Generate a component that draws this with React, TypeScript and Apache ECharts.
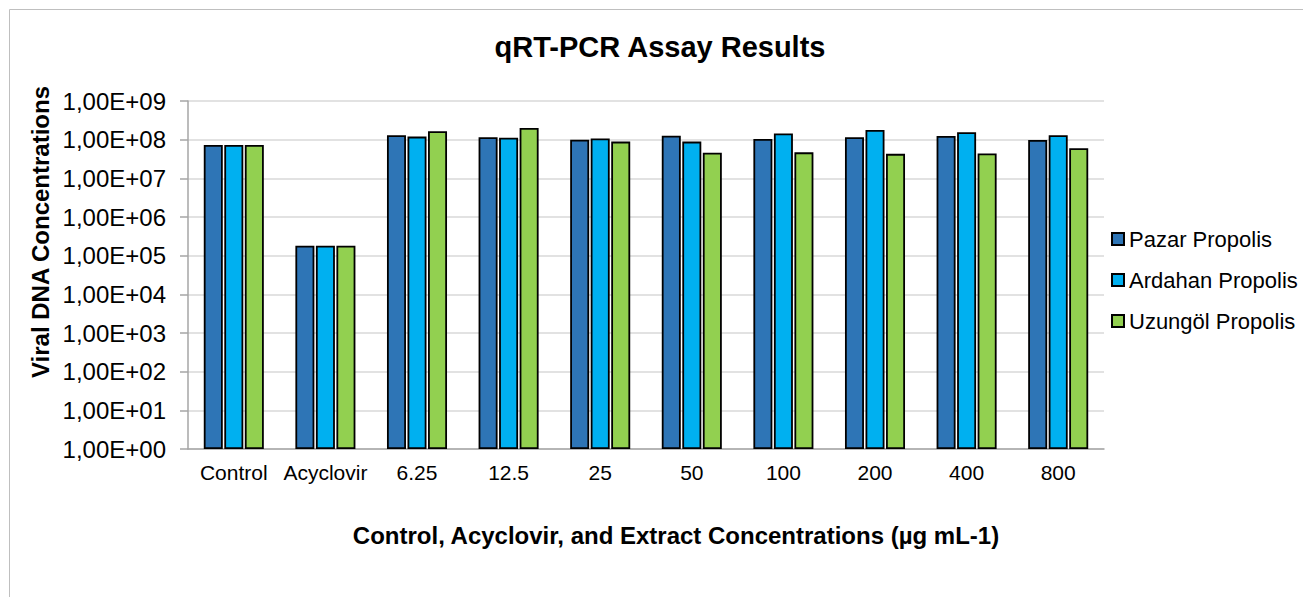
import React, { useEffect, useRef } from "react";
import * as echarts from "echarts";

const categories = ["Control", "Acyclovir", "6.25", "12.5", "25", "50", "100", "200", "400", "800"];
const seriesNames = ["Pazar Propolis", "Ardahan Propolis", "Uzungöl Propolis"];
const pazar = [7.3e7, 1.8e5, 1.3e8, 1.15e8, 1.0e8, 1.26e8, 1.04e8, 1.15e8, 1.24e8, 9.8e7];
const ardahan = [7.3e7, 1.8e5, 1.2e8, 1.12e8, 1.07e8, 8.9e7, 1.45e8, 1.78e8, 1.56e8, 1.3e8];
const uzungol = [7.3e7, 1.8e5, 1.66e8, 2.0e8, 8.9e7, 4.6e7, 4.7e7, 4.3e7, 4.4e7, 6.0e7];
const yTickLabels = ["1,00E+00", "1,00E+01", "1,00E+02", "1,00E+03", "1,00E+04", "1,00E+05", "1,00E+06", "1,00E+07", "1,00E+08", "1,00E+09"];
const colors = ["#2E75B6", "#00B0F0", "#92D050"];

const FONT = "'Liberation Sans', Arial, sans-serif";

export default function App() {
  const ref = useRef<HTMLDivElement>(null);
  useEffect(() => {
    if (!ref.current) return;
    const chart = echarts.init(ref.current, null, { renderer: "svg" });
    const values = [pazar, ardahan, uzungol];
    chart.setOption({
      animation: false,
      backgroundColor: "#ffffff",
      textStyle: { fontFamily: FONT },
      graphic: [
        {
          type: "rect",
          silent: true,
          z: -10,
          shape: { x: 9.5, y: 9.5, width: 1400, height: 700 },
          style: { fill: "none", stroke: "#BFBFBF", lineWidth: 1 },
        },
        {
          type: "text",
          x: 660,
          y: 47,
          style: {
            text: "qRT-PCR Assay Results",
            font: `bold 29px ${FONT}`,
            fill: "#000",
            textAlign: "center",
            textVerticalAlign: "middle",
          },
        },
        {
          type: "text",
          x: 676,
          y: 535,
          style: {
            text: "Control, Acyclovir, and Extract Concentrations (µg mL-1)",
            font: `bold 24px ${FONT}`,
            fill: "#000",
            textAlign: "center",
            textVerticalAlign: "middle",
          },
        },
        {
          type: "text",
          x: 40,
          y: 232,
          rotation: Math.PI / 2,
          style: {
            text: "Viral DNA Concentrations",
            font: `bold 24px ${FONT}`,
            fill: "#000",
            textAlign: "center",
            textVerticalAlign: "middle",
          },
        },
      ],
      legend: {
        orient: "vertical",
        left: 1106,
        top: 223,
        itemWidth: 12,
        itemHeight: 12,
        itemGap: 19,
        icon: "rect",
        textStyle: { fontSize: 22, color: "#000", fontFamily: FONT },
        data: seriesNames,
      },
      grid: { left: 188, right: 199, top: 101, bottom: 148, containLabel: false },
      xAxis: {
        type: "category",
        data: categories,
        axisLine: { show: true, lineStyle: { color: "#A6A6A6", width: 1.5 } },
        axisTick: { show: false },
        axisLabel: { fontSize: 21, color: "#000", margin: 13, interval: 0, fontFamily: FONT },
      },
      yAxis: {
        type: "log",
        logBase: 10,
        min: 1,
        max: 1e9,
        interval: 1,
        axisLine: { show: true, lineStyle: { color: "#A6A6A6", width: 1.5 } },
        axisTick: { show: true, length: 8, inside: false, lineStyle: { color: "#A6A6A6", width: 1.5 } },
        splitLine: { show: true, lineStyle: { color: "#D9D9D9", width: 1.5 } },
        axisLabel: {
          fontSize: 24,
          color: "#000",
          margin: 22,
          fontFamily: FONT,
          formatter: (v: number) => {
            const e = Math.round(Math.log10(v));
            return yTickLabels[e] ?? "";
          },
        },
      },
      series: seriesNames.map((name, i) => ({
        name,
        type: "bar",
        data: values[i],
        barWidth: 19,
        barGap: "8%",
        itemStyle: { color: colors[i], borderColor: "#000", borderWidth: 1.8 },
      })),
    });
    return () => chart.dispose();
  }, []);
  return <div ref={ref} style={{ position: "absolute", left: 0, top: 0, width: 1303, height: 597 }} />;
}
